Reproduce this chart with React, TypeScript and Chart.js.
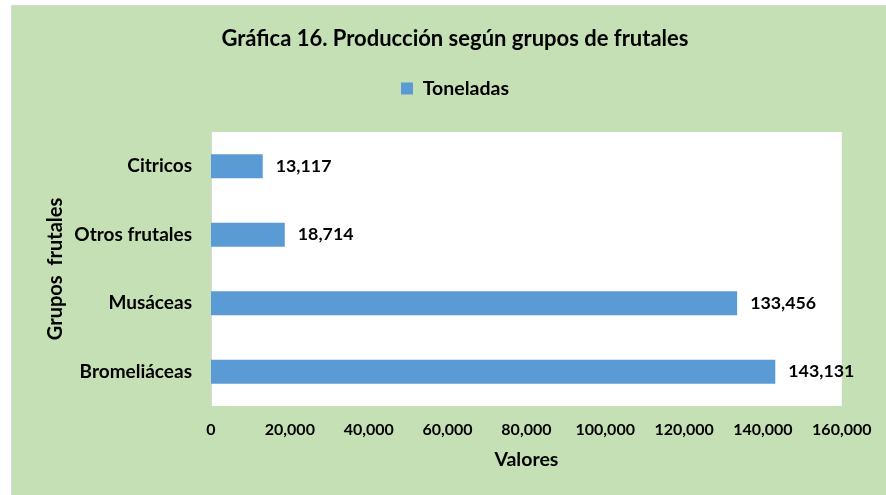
import React, { useEffect, useRef } from 'react';
import { Chart, registerables } from 'chart.js';

Chart.register(...registerables);

const categories = ['Citricos', 'Otros frutales', 'Musáceas', 'Bromeliáceas'];
const toneladas = [13117, 18714, 133456, 143131];
const seriesName = 'Toneladas';
const xMin = 0;
const xMax = 160000;
const xStep = 20000;
const chartTitle = 'Gráfica 16. Producción según grupos de frutales';
const xTitle = 'Valores';
const yTitle = 'Grupos  frutales';

const FONT = 'Lato';

const fmt = (v: number) => Number(v).toLocaleString('en-US');

const backgroundPlugin = {
  id: 'bgPlugin',
  beforeDraw(chart: any) {
    const { ctx, width, height, chartArea } = chart;
    ctx.save();
    ctx.fillStyle = '#ffffff';
    ctx.fillRect(0, 0, width, height);
    ctx.fillStyle = '#c5e0b4';
    ctx.fillRect(11, 5, width - 11, height - 5);
    ctx.strokeStyle = '#d9d9d9';
    ctx.lineWidth = 1;
    ctx.beginPath();
    ctx.moveTo(11.5, height);
    ctx.lineTo(11.5, 5.5);
    ctx.lineTo(width, 5.5);
    ctx.stroke();
    ctx.fillStyle = '#ffffff';
    ctx.fillRect(chartArea.left, chartArea.top, chartArea.right - chartArea.left, chartArea.bottom - chartArea.top);
    ctx.restore();
  },
};

const valueLabelPlugin = {
  id: 'valueLabels',
  afterDatasetsDraw(chart: any) {
    const { ctx } = chart;
    const meta = chart.getDatasetMeta(0);
    const data = chart.data.datasets[0].data as number[];
    ctx.save();
    ctx.font = `bold 17.8px ${FONT}`;
    ctx.fillStyle = '#000000';
    ctx.textAlign = 'left';
    ctx.textBaseline = 'middle';
    meta.data.forEach((el: any, i: number) => {
      ctx.fillText(fmt(data[i]), el.x + 13, el.y);
    });
    ctx.restore();
  },
};

export default function App() {
  const ref = useRef<HTMLCanvasElement | null>(null);

  useEffect(() => {
    if (!ref.current) return;
    Chart.defaults.font.family = FONT;
    const chart = new Chart(ref.current, {
      type: 'bar',
      data: {
        labels: categories,
        datasets: [
          {
            label: seriesName,
            data: toneladas,
            backgroundColor: '#5b9bd5',
            borderWidth: 0,
            categoryPercentage: 1,
            barPercentage: 0.35,
          },
        ],
      },
      options: {
        indexAxis: 'y',
        responsive: false,
        animation: false,
        layout: { padding: { left: 40, right: 16, top: 5, bottom: 0 } },
        plugins: {
          title: {
            display: true,
            text: chartTitle,
            color: '#000000',
            font: { size: 22, weight: 'bold', family: FONT },
            padding: { top: 20.8, bottom: 16.5 },
          },
          legend: {
            display: true,
            position: 'top',
            labels: {
              color: '#000000',
              font: { size: 19.5, weight: 'bold', family: FONT },
              boxWidth: 12,
              boxHeight: 12,
              padding: 10,
            },
          },
          tooltip: { enabled: false },
        },
        scales: {
          x: {
            type: 'linear',
            position: 'bottom',
            min: xMin,
            max: xMax,
            grid: { display: false, drawTicks: false },
            border: { display: false },
            ticks: {
              stepSize: xStep,
              color: '#000000',
              font: { size: 16, weight: 'bold', family: FONT },
              padding: 14.5,
              maxRotation: 0,
              callback: (v: any) => fmt(v),
            },
            title: {
              display: true,
              text: xTitle,
              color: '#000000',
              font: { size: 19.5, weight: 'bold', family: FONT },
              padding: { top: 0, bottom: 23.3 },
            },
            afterFit: (s: any) => {
              s.height = 89;
            },
          },
          xTop: {
            type: 'linear',
            position: 'top',
            display: true,
            grid: { display: false, drawTicks: false },
            border: { display: false },
            ticks: { display: false },
            afterFit: (s: any) => {
              s.height = 23.75;
            },
          },
          y: {
            type: 'category',
            position: 'left',
            grid: { display: false, drawTicks: false },
            border: { display: true, color: '#d9d9d9', width: 1 },
            ticks: {
              color: '#000000',
              font: { size: 19, weight: 'bold', family: FONT },
              padding: 19,
            },
            title: {
              display: true,
              text: yTitle,
              color: '#000000',
              font: { size: 20, weight: 'bold', family: FONT },
              padding: { top: 4, bottom: 0 },
            },
            afterFit: (s: any) => {
              s.width = 171;
            },
          },
        },
      } as any,
      plugins: [backgroundPlugin, valueLabelPlugin],
    });
    return () => chart.destroy();
  }, []);

  return (
    <div style={{ position: 'absolute', left: 0, top: 0, width: 886, height: 495 }}>
      <canvas ref={ref} width={886} height={495} style={{ display: 'block', width: 886, height: 495 }} />
    </div>
  );
}
